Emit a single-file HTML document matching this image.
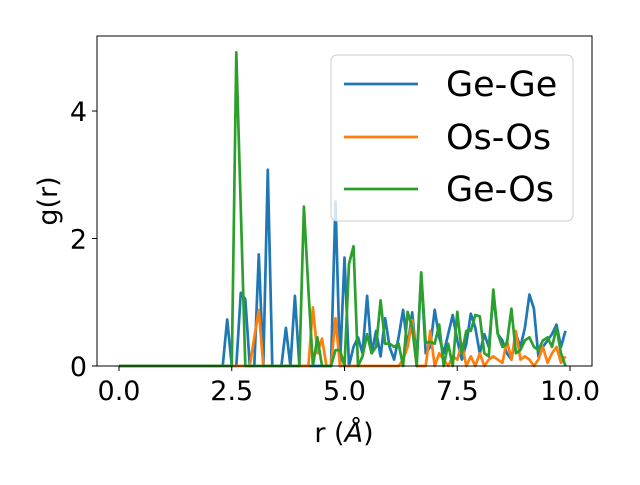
<!DOCTYPE html>
<html><head><meta charset="utf-8"><style>
body{margin:0;background:#fff}
svg{font-family:"DejaVu Sans","Liberation Sans",sans-serif}
</style></head><body>
<svg id="c" width="640" height="480"></svg>
<script>
const rStart=0, rStep=0.1;
const geGe=[0,0,0,0,0,0,0,0,0,0,0,0,0,0,0,0,0,0,0,0,0,0,0,0,0.73,0,0,1.15,1.05,0,0,1.75,0,3.08,0,0,0,0.6,0,1.1,0,0,0,0,0,0,0,0,2.58,0,1.7,0,0.3,0.45,0.2,1.1,0.2,0.55,0.15,0.75,0.3,0.1,0.45,0.88,0.3,0.84,0.1,1.44,0.2,0.3,0.88,0.45,0.2,0.5,0.8,0.4,0.1,0.35,0.82,0.6,0.2,0.5,0.3,1.12,0.5,0.4,0.2,0.1,0.5,0.3,0.6,1.12,0.9,0.15,0.3,0.4,0.5,0.65,0.3,0.55];
const osOs=[0,0,0,0,0,0,0,0,0,0,0,0,0,0,0,0,0,0,0,0,0,0,0,0,0,0,0,0,0,0,0.45,0.88,0,0,0,0,0,0,0,0,0,0,0,0.92,0.2,0.43,0,0,0.75,0,0,0,0,0,0,0,0,0,0,0,0,0,0,0.1,0.3,0.72,0,0,0,0.55,0,0.2,0.1,0,0.15,0.1,0.35,0,0.15,0,0.2,0,0.1,0.15,0.1,0.05,0.4,0.1,0.55,0.1,0.15,0.1,0,0.1,0.3,0.05,0.2,0.3,0.05,0.15];
const geOs=[0,0,0,0,0,0,0,0,0,0,0,0,0,0,0,0,0,0,0,0,0,0,0,0,0,0,4.92,2.46,0,0,0,0,0,0,0,0,0,0,0,0,0,2.5,1.2,0,0.45,0,0,0,0.25,0.25,0,1.6,1.88,0,0.15,0.5,0.2,0.3,1.03,0.35,0.35,0.3,0.35,0,0.85,0.6,0,1.47,0.36,0.38,0.35,0.65,0,0.35,0,0.85,0.2,0.55,0.55,0.8,0.78,0.2,0.15,1.2,0.5,0.3,0.35,0.9,0.2,0.25,0.4,0.45,0.3,0.25,0.4,0.45,0.3,0.6,0.2,0];
const xTicks=["0.0","2.5","5.0","7.5","10.0"], xTickVals=[0,2.5,5,7.5,10];
const yTickVals=[0,2,4];
const NS="http://www.w3.org/2000/svg", svg=document.getElementById('c');
const L=97,R=592,T=36,B=366;
const X=v=>119+v*45.1, Y=v=>366-v*63.75;
function el(t,a,p){const e=document.createElementNS(NS,t);for(const k in a)e.setAttribute(k,a[k]);(p||svg).appendChild(e);return e;}
function series(d,color,name){
  const pts=d.map((v,i)=>X(rStart+i*rStep).toFixed(1)+','+Y(v).toFixed(1)).join(' ');
  const p=el('polyline',{points:pts,fill:'none',stroke:color,'stroke-width':2.7,'stroke-linejoin':'round'});
  
  
}
series(geGe,'#1f77b4','series-ge-ge');
series(osOs,'#ff7f0e','series-os-os');
series(geOs,'#2ca02c','series-ge-os');
const frame=el('rect',{x:L,y:T,width:R-L,height:B-T,fill:'none',stroke:'#000','stroke-width':1});

xTickVals.forEach((v,i)=>{el('line',{x1:X(v),x2:X(v),y1:B,y2:B+5,stroke:'#000'});
  const t=el('text',{x:X(v),y:B+34,'font-size':27,'text-anchor':'middle'});t.textContent=xTicks[i];
  });
yTickVals.forEach(v=>{el('line',{x1:L-5,x2:L,y1:Y(v),y2:Y(v),stroke:'#000'});
  const t=el('text',{x:L-10,y:Y(v)+10,'font-size':27,'text-anchor':'end'});t.textContent=v;
  });
const xl=el('text',{x:344,y:442,'font-size':27,'text-anchor':'middle'});xl.innerHTML='r (<tspan font-style="italic">Å</tspan>)';

const yl=el('text',{x:57,y:201,'font-size':27,'text-anchor':'middle',transform:'rotate(-90 57 201)'});yl.textContent='g(r)';

const lg=el('g',{});
el('rect',{x:331,y:55,width:242,height:166,rx:6,fill:'#fff','fill-opacity':0.8,stroke:'#ccc'},lg);
[['Ge-Ge','#1f77b4',84],['Os-Os','#ff7f0e',137],['Ge-Os','#2ca02c',189]].forEach(([n,c,y])=>{
  el('line',{x1:344,x2:418,y1:y,y2:y,stroke:c,'stroke-width':2.7},lg);
  const t=el('text',{x:446,y:y+12,'font-size':35},lg);t.textContent=n;
  });
</script>
</body></html>
